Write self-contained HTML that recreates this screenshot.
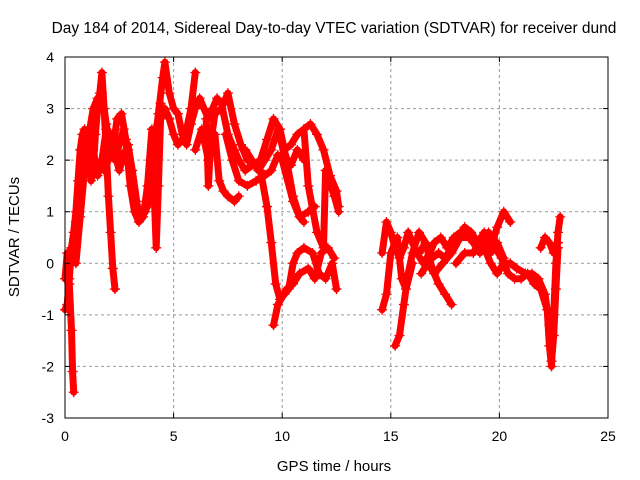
<!DOCTYPE html>
<html><head><meta charset="utf-8"><style>
body{margin:0;background:#fff}
svg{display:block;font-family:"Liberation Sans",sans-serif}
</style></head><body>
<svg id="chart" width="640" height="480" viewBox="0 0 640 480">
<text x="334" y="33" font-size="15.5" text-anchor="middle">Day 184 of 2014, Sidereal Day-to-day VTEC variation (SDTVAR) for receiver dund</text>
<text x="334" y="471" font-size="15" text-anchor="middle">GPS time / hours</text>
<text transform="translate(19,237) rotate(-90)" font-size="15" text-anchor="middle">SDTVAR / TECUs</text>
<g id="grid"></g>
<g id="marks"></g>
<rect x="65" y="57" width="543" height="361" fill="none" stroke="#000" stroke-width="1"/>
<g id="ticks"></g>
</svg>
<script>
const xTicks=[0,5,10,15,20,25];
const yTicks=[-3,-2,-1,0,1,2,3,4];
const t1=[0,0.1,0.2,0.3,0.4,0.5,0.6,0.7,0.8,0.9,1.0,1.1,1.2,1.3,1.4,1.5,1.6,1.7,1.8,1.9,2.0,2.1,2.2,2.3];
const v1=[-0.9,-0.8,-0.3,0.3,0.6,1.0,1.6,2.2,2.5,2.6,2.4,2.0,1.6,1.8,2.5,3.0,3.3,3.7,3.0,2.2,1.3,0.6,-0.1,-0.5];
const t2=[0,0.1,0.2,0.3,0.35,0.4];
const v2=[-0.3,0.2,-0.4,-1.3,-2.1,-2.5];
const t3=[0.3,0.5,0.7,0.9,1.1,1.3,1.5,1.7,1.9,2.1,2.3,2.5,2.7,2.9,3.1,3.3,3.5,3.7,3.9,4.1,4.3,4.5,4.6,4.8,5.0,5.2,5.4,5.6,5.8,6.0,6.2,6.4,6.6,6.8,7.0,7.2,7.5,7.8,8.0,8.3,8.6,9.0,9.3,9.6,9.9,10.2,10.5,10.8,11.2,11.5];
const v3=[0.3,0.8,1.5,2.0,2.5,3.0,3.2,3.3,2.7,2.2,2.0,2.3,2.6,2.2,1.6,1.1,0.9,1.0,1.4,2.1,2.9,3.6,3.9,3.3,3.0,2.9,2.5,2.3,2.7,3.0,3.2,3.0,2.8,3.0,3.2,3.1,2.5,2.2,2.0,1.8,1.9,2.0,2.4,2.8,2.6,2.0,1.3,0.9,1.0,1.1];
const t4=[1.8,2.0,2.2,2.4,2.6,2.8,3.0,3.2,3.4,3.6,3.8,4.0,4.1,4.2,4.3,4.4,4.6,4.8,5.0,5.2,5.4,5.6,5.8,6.0];
const v4=[1.8,2.0,2.2,2.8,2.9,2.4,1.5,1.0,0.8,0.9,1.5,2.6,1.4,0.3,1.5,2.8,3.0,2.8,2.5,2.3,2.4,2.6,3.0,3.7];
const t5=[6.5,6.6,6.7,6.9,7.1,7.3,7.5,7.8,8.0];
const v5=[2.8,1.5,2.3,2.5,1.6,1.4,1.3,1.2,1.3];
const t6=[7.4,7.7,8.0,8.4,8.8,9.2,9.5,9.8,10.0,10.5,10.8,11.0];
const v6=[2.5,2.0,1.6,1.5,1.6,1.7,1.8,2.1,2.0,1.2,0.9,0.8];
const t7=[9.0,9.3,9.5,9.7,9.9,10.1,10.3,10.5,10.7,11.0,11.4,11.7,12.0,12.3,12.5];
const v7=[1.8,1.1,0.4,-0.4,-0.7,-0.6,-0.5,0.0,0.2,0.3,0.2,-0.2,-0.3,0.0,-0.5];
const t8=[9.6,9.8,10.2,10.5,10.8,11.2,11.5,11.8,12.1,12.4];
const v8=[-1.2,-0.8,-0.5,-0.4,-0.2,-0.1,-0.3,0.2,0.3,0.1];
const t9=[10.1,10.4,10.7,11.0,11.2,11.6,11.9,12.0,12.4,12.6];
const v9=[2.2,2.3,2.5,2.6,1.5,0.6,0.3,1.8,1.3,1.0];
const t10=[11.0,11.3,11.6,11.9,12.2,12.5,12.6];
const v10=[2.6,2.7,2.5,2.2,1.7,1.4,1.1];
const t11=[14.6,14.8,15.0,15.2,15.4,15.6,15.8,16.0,16.2,16.5,16.8,17.0,17.3,17.6,17.9,18.2,18.5,18.8,19.1,19.3,19.6,19.9,20.2,20.5,20.8,21.2,21.5,21.8,22.1,22.3,22.4,22.5,22.6,22.7];
const v11=[0.2,0.8,0.6,0.3,0.1,0.3,0.6,0.4,0.2,0.0,0.2,0.4,0.5,0.3,0.5,0.6,0.6,0.4,0.2,0.3,0.0,-0.2,0.0,0.0,-0.1,-0.2,-0.2,-0.3,-0.6,-1.2,-1.9,-1.4,-0.5,0.3];
const t12=[14.6,14.8,15.0,15.3,15.5,15.7,16.0];
const v12=[-0.9,-0.6,0.2,0.5,-0.3,-0.5,0.0];
const t13=[15.2,15.4,15.6,15.8,16.0,16.3,16.6,16.9,17.2,17.5,17.8];
const v13=[-1.6,-1.4,-0.8,-0.2,0.2,0.6,0.4,-0.1,-0.4,-0.6,-0.8];
const t14=[16.4,16.7,17.0,17.4,17.8,18.2,18.6,19.0,19.3,19.6,19.9,20.2,20.5];
const v14=[-0.2,0.0,-0.2,0.0,0.2,0.5,0.5,0.3,0.5,0.3,0.7,1.0,0.8];
const t15=[18.0,18.4,18.8,19.2,19.5,19.8,20.1,20.4,20.7,21.0,21.3,21.6,21.9,22.2,22.3,22.4,22.5,22.6,22.7,22.8];
const v15=[0.0,0.2,0.2,0.5,0.6,0.3,0.1,-0.2,-0.3,-0.3,-0.2,-0.4,-0.5,-0.9,-1.6,-2.0,-1.0,0.0,0.6,0.9];
const t16=[21.9,22.1,22.3,22.5,22.7];
const v16=[0.3,0.5,0.4,0.2,0.4];
const t17=[0.5,0.7,0.9,1.1,1.3,1.5,1.7,1.9,2.1,2.3,2.5,2.7,2.9,3.1,3.3];
const v17=[0.0,0.9,1.8,2.4,2.2,1.7,2.0,2.6,2.5,2.1,1.8,2.1,2.3,1.8,1.2];
const t18=[2.6,2.9,3.2,3.5,3.8,4.0,4.2,4.4];
const v18=[2.1,2.0,1.3,0.9,1.1,1.8,2.6,3.1];
const t19=[6.0,6.3,6.6,6.9,7.2,7.5,7.8,8.1,8.4];
const v19=[2.2,2.6,2.0,2.9,3.0,3.3,2.7,2.3,2.0];
const t20=[8.3,8.6,8.9,9.2,9.5,9.8,10.1,10.4,10.7,11.0];
const v20=[2.2,2.0,1.8,2.0,2.2,2.6,2.1,1.9,2.2,2.0];
const t21=[16.3,16.6,16.9,17.2,17.5,17.8,18.1,18.4,18.7,19.0,19.3,19.6,19.9,20.2];
const v21=[0.2,0.4,0.1,0.2,0.1,0.3,0.5,0.7,0.6,0.4,0.6,0.2,0.4,0.1];
const series=[[t1,v1],[t2,v2],[t3,v3],[t4,v4],[t5,v5],[t6,v6],[t7,v7],[t8,v8],[t9,v9],[t10,v10],[t11,v11],[t12,v12],[t13,v13],[t14,v14],[t15,v15],[t16,v16],[t17,v17],[t18,v18],[t19,v19],[t20,v20],[t21,v21]];

const X=t=>65+t*(543/25);
const Y=v=>418-(v+3)*(361/7);
const NS='http://www.w3.org/2000/svg';
const grid=document.getElementById('grid'),ticks=document.getElementById('ticks'),marks=document.getElementById('marks');
function mk(tag,attrs,parent){const e=document.createElementNS(NS,tag);for(const k in attrs)e.setAttribute(k,attrs[k]);parent.appendChild(e);return e;}
xTicks.forEach(t=>{
  if(t>0&&t<25){const g=mk('line',{x1:X(t),x2:X(t),y1:57,y2:418,stroke:'#999','stroke-dasharray':'3,3'},grid);
  
  }
  const l=mk('text',{x:X(t),y:441,'font-size':14,'text-anchor':'middle'},ticks);l.textContent=t;
  
  
  mk('line',{x1:X(t),x2:X(t),y1:418,y2:413,stroke:'#000'},ticks);
  mk('line',{x1:X(t),x2:X(t),y1:57,y2:62,stroke:'#000'},ticks);
});
yTicks.forEach(v=>{
  if(v>-3&&v<4){const g=mk('line',{x1:65,x2:608,y1:Y(v),y2:Y(v),stroke:'#999','stroke-dasharray':'3,3'},grid);
  
  }
  const l=mk('text',{x:54,y:Y(v)+5,'font-size':14,'text-anchor':'end'},ticks);l.textContent=v;
  
  
  mk('line',{x1:65,x2:70,y1:Y(v),y2:Y(v),stroke:'#000'},ticks);
  mk('line',{x1:608,x2:603,y1:Y(v),y2:Y(v),stroke:'#000'},ticks);
});
series.forEach(([ts,vs],i)=>{
  const pts=ts.map((t,j)=>X(t).toFixed(1)+','+Y(vs[j]).toFixed(1)).join(' ');
  const pl=mk('polyline',{points:pts,fill:'none',stroke:'#f00','stroke-width':7,'stroke-linejoin':'round','stroke-linecap':'round'},marks);
  
  
  ts.forEach((t,j)=>{
    const x=X(t),y=Y(vs[j]);
    const p=mk('path',{d:`M${x-5},${y}H${x+5}M${x},${y-5}V${y+5}`,stroke:'#f00','stroke-width':1.3},marks);
    
    
  });
});
</script>
</body></html>
